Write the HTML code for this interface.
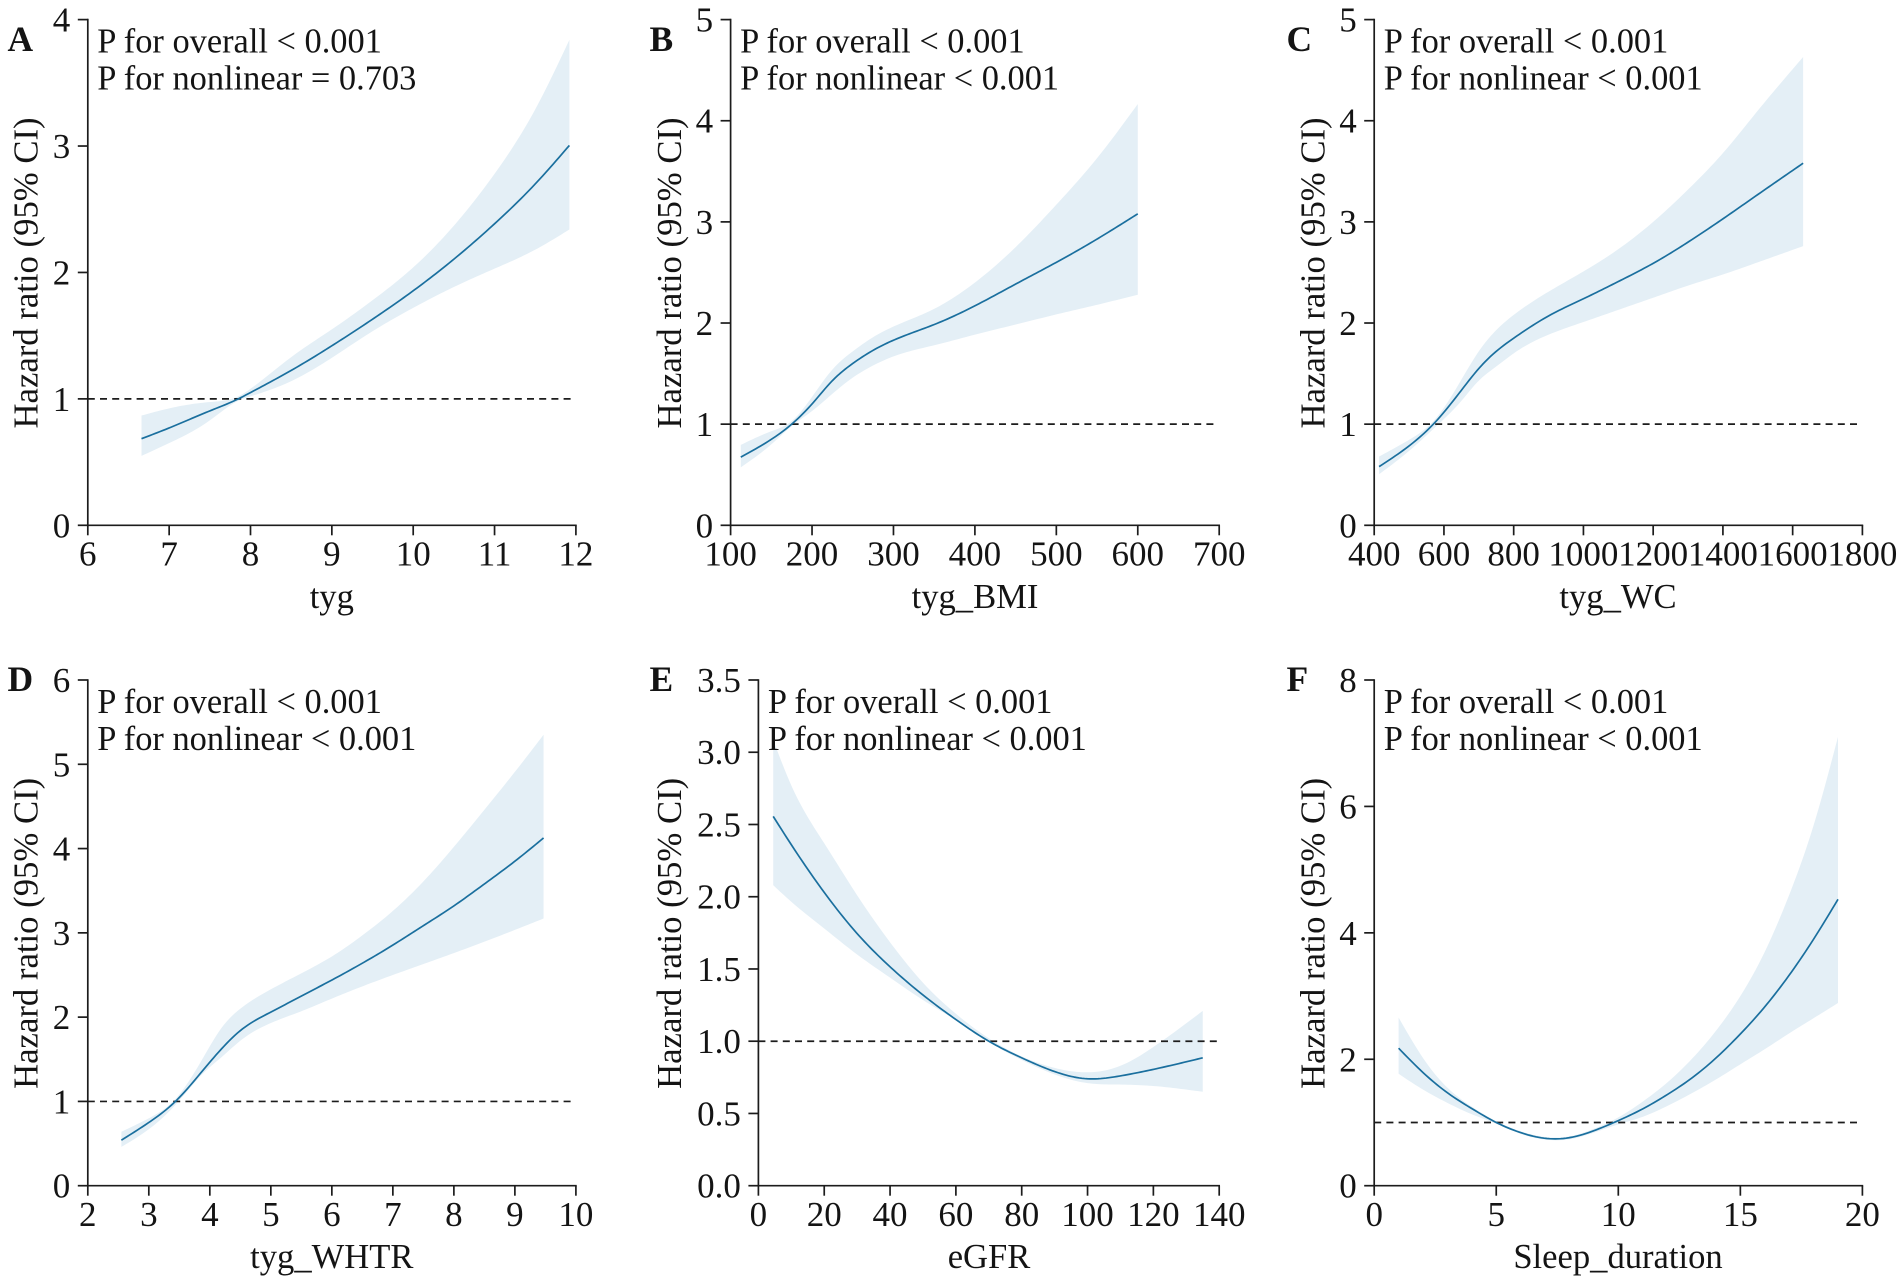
<!DOCTYPE html>
<html lang="en">
<head>
<meta charset="utf-8">
<title>Restricted cubic spline hazard ratio panels</title>
<style>
  html, body { margin: 0; padding: 0; background: #fff; }
  svg { display: block; }
  text { font-family: "Liberation Serif", serif; fill: #141414; }
</style>
</head>
<body>
<svg id="figure" xmlns="http://www.w3.org/2000/svg" width="1902" height="1282" viewBox="0 0 1902 1282"></svg>
<script>
// Panel A
const aX = [6.66, 7, 7.5, 7.85, 8, 8.5, 9, 9.5, 10, 10.5, 11, 11.5, 11.92];
const aMean = [0.685, 0.77, 0.905, 1.0, 1.05, 1.225, 1.42, 1.63, 1.855, 2.105, 2.385, 2.7, 3.005];
const aLower = [0.549, 0.65, 0.83, 0.985, 1.02, 1.14, 1.325, 1.535, 1.72, 1.885, 2.03, 2.18, 2.34];
const aUpper = [0.868, 0.925, 0.975, 1.02, 1.08, 1.33, 1.55, 1.78, 2.04, 2.37, 2.78, 3.29, 3.84];
const aXTicks = ["6", "7", "8", "9", "10", "11", "12"];
const aYTicks = ["0", "1", "2", "3", "4"];

// Panel B
const bX = [112.5, 150, 175, 200, 225, 250, 275, 300, 350, 400, 450, 500, 550, 600];
const bMean = [0.674, 0.85, 1.0, 1.2, 1.43, 1.6, 1.73, 1.83, 1.985, 2.17, 2.385, 2.6, 2.83, 3.08];
const bLower = [0.573, 0.8, 0.98, 1.13, 1.3, 1.46, 1.58, 1.67, 1.78, 1.885, 1.985, 2.085, 2.18, 2.28];
const bUpper = [0.795, 0.93, 1.03, 1.27, 1.54, 1.72, 1.86, 1.965, 2.14, 2.4, 2.75, 3.17, 3.63, 4.165];
const bXTicks = ["100", "200", "300", "400", "500", "600", "700"];
const bYTicks = ["0", "1", "2", "3", "4", "5"];

// Panel C
const cX = [414, 500, 575, 650, 700, 750, 800, 900, 1000, 1100, 1200, 1300, 1400, 1500, 1630];
const cMean = [0.58, 0.785, 1.02, 1.335, 1.55, 1.72, 1.85, 2.07, 2.24, 2.41, 2.59, 2.8, 3.03, 3.27, 3.58];
const cLower = [0.505, 0.735, 0.97, 1.23, 1.43, 1.57, 1.7, 1.885, 2.01, 2.13, 2.25, 2.37, 2.48, 2.6, 2.76];
const cUpper = [0.68, 0.845, 1.05, 1.44, 1.72, 1.93, 2.08, 2.31, 2.51, 2.73, 3.0, 3.32, 3.68, 4.1, 4.63];
const cXTicks = ["400", "600", "800", "1000", "1200", "1400", "1600", "1800"];
const cYTicks = ["0", "1", "2", "3", "4", "5"];

// Panel D
const dX = [2.55, 3, 3.45, 3.9, 4.2, 4.5, 5, 5.5, 6, 6.5, 7, 7.5, 8, 8.5, 9, 9.47];
const dMean = [0.54, 0.75, 1.01, 1.38, 1.63, 1.84, 2.06, 2.25, 2.44, 2.64, 2.855, 3.085, 3.32, 3.58, 3.85, 4.126];
const dLower = [0.46, 0.67, 0.97, 1.34, 1.53, 1.72, 1.93, 2.07, 2.22, 2.365, 2.5, 2.63, 2.76, 2.895, 3.035, 3.17];
const dUpper = [0.64, 0.8, 1.04, 1.53, 1.88, 2.1, 2.33, 2.52, 2.72, 2.97, 3.26, 3.61, 4.02, 4.46, 4.91, 5.35];
const dXTicks = ["2", "3", "4", "5", "6", "7", "8", "9", "10"];
const dYTicks = ["0", "1", "2", "3", "4", "5", "6"];

// Panel E
const eX = [4.5, 10, 20, 30, 40, 50, 60, 70, 80, 90, 100, 110, 120, 135];
const eMean = [2.556, 2.36, 2.03, 1.745, 1.515, 1.32, 1.15, 1.0, 0.885, 0.79, 0.74, 0.76, 0.805, 0.885];
const eLower = [2.08, 1.965, 1.78, 1.6, 1.44, 1.285, 1.145, 0.995, 0.87, 0.77, 0.71, 0.7, 0.69, 0.65];
const eUpper = [3.085, 2.77, 2.37, 2.01, 1.685, 1.405, 1.19, 1.02, 0.895, 0.815, 0.785, 0.83, 0.96, 1.21];
const eXTicks = ["0", "20", "40", "60", "80", "100", "120", "140"];
const eYTicks = ["0.0", "0.5", "1.0", "1.5", "2.0", "2.5", "3.0", "3.5"];

// Panel F
const fX = [1, 2, 3, 4, 5, 6, 7, 8, 9, 10, 11, 12, 13, 14, 15, 16, 17, 18, 19];
const fMean = [2.175, 1.79, 1.47, 1.22, 1.0, 0.84, 0.75, 0.76, 0.87, 1.03, 1.215, 1.44, 1.7, 2.02, 2.4, 2.83, 3.33, 3.9, 4.53];
const fLower = [1.77, 1.52, 1.31, 1.13, 0.98, 0.82, 0.73, 0.735, 0.84, 0.97, 1.09, 1.26, 1.46, 1.68, 1.92, 2.16, 2.41, 2.65, 2.89];
const fUpper = [2.66, 2.02, 1.55, 1.25, 1.02, 0.86, 0.77, 0.78, 0.9, 1.08, 1.33, 1.63, 2.0, 2.45, 3.0, 3.7, 4.6, 5.7, 7.1];
const fXTicks = ["0", "5", "10", "15", "20"];
const fYTicks = ["0", "2", "4", "6", "8"];

const referenceValue = 1;
const NS = "http://www.w3.org/2000/svg";
const figure = document.getElementById("figure");

function svgNode(parent, tag, attrs, content) {
  const node = document.createElementNS(NS, tag);
  for (const key in attrs) node.setAttribute(key, attrs[key]);
  if (content !== undefined) node.textContent = content;
  parent.appendChild(node);
  return node;
}

// Natural cubic spline through the read values; returns [x, y] data samples.
function splineSamples(xs, ys, count) {
  const n = xs.length;
  const m = new Array(n).fill(0);
  const c = new Array(n).fill(0);
  const d = new Array(n).fill(0);
  for (let i = 1; i < n - 1; i++) {
    const h0 = xs[i] - xs[i - 1], h1 = xs[i + 1] - xs[i];
    const b = 2 * (h0 + h1) - h0 * c[i - 1];
    c[i] = h1 / b;
    d[i] = (6 * ((ys[i + 1] - ys[i]) / h1 - (ys[i] - ys[i - 1]) / h0) - h0 * d[i - 1]) / b;
  }
  for (let i = n - 2; i > 0; i--) m[i] = d[i] - c[i] * m[i + 1];
  const out = [];
  let seg = 0;
  for (let s = 0; s <= count; s++) {
    const x = xs[0] + (xs[n - 1] - xs[0]) * s / count;
    while (seg < n - 2 && x > xs[seg + 1]) seg++;
    const h = xs[seg + 1] - xs[seg];
    const a = (xs[seg + 1] - x) / h, b = (x - xs[seg]) / h;
    const y = a * ys[seg] + b * ys[seg + 1] + ((a * a * a - a) * m[seg] + (b * b * b - b) * m[seg + 1]) * h * h / 6;
    out.push([x, y]);
  }
  return out;
}

function drawPanel(p) {
  const group = svgNode(figure, "g", {});
  
  

  const xMin = parseFloat(p.xTicks[0]), xMax = parseFloat(p.xTicks[p.xTicks.length - 1]);
  const yMin = parseFloat(p.yTicks[0]), yMax = parseFloat(p.yTicks[p.yTicks.length - 1]);
  const sx = v => p.left + (v - xMin) / (xMax - xMin) * (p.right - p.left);
  const sy = v => p.bottom - (v - yMin) / (yMax - yMin) * (p.bottom - p.top);
  const toPx = pt => sx(pt[0]).toFixed(2) + " " + sy(pt[1]).toFixed(2);

  // Confidence band
  const upperPts = splineSamples(p.x, p.upper, 160).map(toPx);
  const lowerPts = splineSamples(p.x, p.lower, 160).map(toPx).reverse();
  const band = svgNode(group, "path", { d: "M" + upperPts.concat(lowerPts).join("L") + "Z", fill: "#e4eff6", stroke: "none" });
  
  

  // Reference line
  const dash = svgNode(group, "line", { x1: p.left, x2: p.dashEnd, y1: sy(referenceValue), y2: sy(referenceValue), stroke: "#1c1c1c", "stroke-width": 1.7, "stroke-dasharray": "7 5.2" });
  
  

  // Hazard ratio curve
  const curve = svgNode(group, "path", { d: "M" + splineSamples(p.x, p.mean, 160).map(toPx).join("L"), fill: "none", stroke: "#1a6f9e", "stroke-width": 1.7, "stroke-linejoin": "round" });
  
  

  // Axes
  const yAxis = svgNode(group, "line", { x1: p.left, x2: p.left, y1: p.top - 0.8, y2: p.bottom + 0.8, stroke: "#1c1c1c", "stroke-width": 1.7 });
  
  
  const xAxis = svgNode(group, "line", { x1: p.left - 0.8, x2: p.right + 0.8, y1: p.bottom, y2: p.bottom, stroke: "#1c1c1c", "stroke-width": 1.7 });
  
  

  p.xTicks.forEach(label => {
    const v = parseFloat(label);
    const tick = svgNode(group, "line", { x1: sx(v), x2: sx(v), y1: p.bottom, y2: p.bottom + 10, stroke: "#1c1c1c", "stroke-width": 1.7 });
    
    
    const text = svgNode(group, "text", { x: sx(v), y: p.bottom + 40.4, "font-size": 35, "text-anchor": "middle" }, label);
    
    
  });
  p.yTicks.forEach(label => {
    const v = parseFloat(label);
    const tick = svgNode(group, "line", { x1: p.left - 10, x2: p.left, y1: sy(v), y2: sy(v), stroke: "#1c1c1c", "stroke-width": 1.7 });
    
    
    const text = svgNode(group, "text", { x: p.left - 17.5, y: sy(v) + 12, "font-size": 35, "text-anchor": "end" }, label);
    
    
  });

  // Titles
  const xTitle = svgNode(group, "text", { x: p.xTitleX, y: p.bottom + 82.5, "font-size": 34.6, "text-anchor": "middle" }, p.xTitle);
  
  
  const cy = (p.top + p.bottom) / 2 + 0.5;
  const yTitle = svgNode(group, "text", { x: 0, y: 0, "font-size": 34.7, "text-anchor": "middle", transform: "translate(" + p.yTitleX + " " + cy + ") rotate(-90)" }, "Hazard ratio (95% CI)");
  
  

  const letter = svgNode(group, "text", { x: p.letterX, y: p.letterY, "font-size": 35.5, "font-weight": "bold" }, p.letter);
  
  

  const stat1 = svgNode(group, "text", { x: p.left + 9.5, y: p.top + 33, "font-size": 34.4 }, p.stat1);
  
  
  const stat2 = svgNode(group, "text", { x: p.left + 9.5, y: p.top + 70, "font-size": 34.4 }, p.stat2);
  
  
}

drawPanel({ letter: "A", left: 87.8, right: 575.9, top: 19.6, bottom: 525.3, dashEnd: 571, yTitleX: 37.5, xTitleX: 331.8, letterX: 7.5, letterY: 51, xTitle: "tyg", stat1: "P for overall < 0.001", stat2: "P for nonlinear = 0.703", x: aX, mean: aMean, lower: aLower, upper: aUpper, xTicks: aXTicks, yTicks: aYTicks });
drawPanel({ letter: "B", left: 730.6, right: 1219.2, top: 19.6, bottom: 525.3, dashEnd: 1215, yTitleX: 680.8, xTitleX: 975, letterX: 649.5, letterY: 51, xTitle: "tyg_BMI", stat1: "P for overall < 0.001", stat2: "P for nonlinear < 0.001", x: bX, mean: bMean, lower: bLower, upper: bUpper, xTicks: bXTicks, yTicks: bYTicks });
drawPanel({ letter: "C", left: 1374.2, right: 1862.4, top: 19.6, bottom: 525.3, dashEnd: 1859, yTitleX: 1324.4, xTitleX: 1618, letterX: 1286.5, letterY: 51, xTitle: "tyg_WC", stat1: "P for overall < 0.001", stat2: "P for nonlinear < 0.001", x: cX, mean: cMean, lower: cLower, upper: cUpper, xTicks: cXTicks, yTicks: cYTicks });
drawPanel({ letter: "D", left: 87.8, right: 575.9, top: 680, bottom: 1185.7, dashEnd: 571, yTitleX: 37.5, xTitleX: 331.8, letterX: 7.5, letterY: 691, xTitle: "tyg_WHTR", stat1: "P for overall < 0.001", stat2: "P for nonlinear < 0.001", x: dX, mean: dMean, lower: dLower, upper: dUpper, xTicks: dXTicks, yTicks: dYTicks });
drawPanel({ letter: "E", left: 758.4, right: 1219.2, top: 680, bottom: 1185.7, dashEnd: 1218, yTitleX: 680.8, xTitleX: 989, letterX: 649.5, letterY: 691, xTitle: "eGFR", stat1: "P for overall < 0.001", stat2: "P for nonlinear < 0.001", x: eX, mean: eMean, lower: eLower, upper: eUpper, xTicks: eXTicks, yTicks: eYTicks });
drawPanel({ letter: "F", left: 1374.2, right: 1862.4, top: 680, bottom: 1185.7, dashEnd: 1859, yTitleX: 1324.4, xTitleX: 1618, letterX: 1286.5, letterY: 691, xTitle: "Sleep_duration", stat1: "P for overall < 0.001", stat2: "P for nonlinear < 0.001", x: fX, mean: fMean, lower: fLower, upper: fUpper, xTicks: fXTicks, yTicks: fYTicks });
</script>
</body>
</html>
